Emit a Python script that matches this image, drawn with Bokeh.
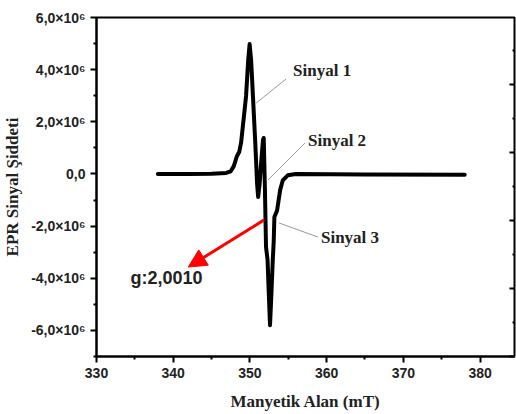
from bokeh.plotting import figure
from bokeh.models import (Range1d, LinearAxis, FixedTicker, Label, Arrow,
                          NormalHead, ColumnDataSource, CustomLabelingPolicy)
from bokeh.embed import file_html
from bokeh.resources import INLINE

# ---- data ----
field_mT = [338.0, 342.0, 345.0, 346.9, 347.5, 347.9, 348.3, 348.6, 348.85,
            349.25, 349.5, 349.77, 349.96, 350.16, 350.4, 350.68, 350.94,
            351.07, 351.26, 351.46, 351.7, 351.8, 351.95, 352.1, 352.3,
            352.45, 352.62, 352.8, 352.98, 353.1, 353.19, 353.54, 353.95,
            354.28, 354.93, 356.0, 365.0, 378.0]
signal = [0.0, 0.0, 0.01e6, 0.04e6, 0.1e6, 0.3e6, 0.68e6, 0.84e6, 1.2e6,
          2.3e6, 3.0e6, 4.35e6, 4.98e6, 4.35e6, 2.95e6, 1.3e6, -0.4e6,
          -0.88e6, -0.4e6, 0.42e6, 1.3e6, 1.38e6, -0.5e6, -2.8e6, -3.3e6,
          -4.5e6, -5.8e6, -4.6e6, -3.3e6, -2.6e6, -1.65e6, -1.4e6, -0.6e6,
          -0.25e6, -0.05e6, 0.0, -0.02e6, -0.03e6]

x_ticks = [330, 340, 350, 360, 370, 380]
x_minor = [335, 345, 355, 365, 375]
y_ticks = [-6e6, -4e6, -2e6, 0.0, 2e6, 4e6, 6e6]
y_tick_labels = ["-6,0×10⁶", "-4,0×10⁶", "-2,0×10⁶", "0,0",
                 "2,0×10⁶", "4,0×10⁶", "6,0×10⁶"]
y_minor = [-7e6, -5e6, -3e6, -1e6, 1e6, 3e6, 5e6]

signal_names = ["Sinyal 1", "Sinyal 2", "Sinyal 3"]
g_text = "g:2,0010"

# ---- layout constants ----
XMIN, XMAX = 330, 384.49
YMIN, YMAX = -7e6, 6e6
SERIF = "Liberation Serif"
SANS = "Liberation Sans"
HIDE = "for (const i of indices) indices.unset(i)"
RIGHT_STEP = 2.605e6   # spacing of the (unlabelled) right-edge ticks

p = figure(width=516, height=414, x_range=Range1d(XMIN, XMAX),
           y_range=Range1d(YMIN, YMAX), output_backend="svg",
           toolbar_location=None, min_border_left=95, min_border_top=17,
           min_border_right=2, min_border_bottom=58, title_location=None,
           x_axis_label="Manyetik Alan (mT)", y_axis_label="EPR Sinyal Şiddeti")
p.outline_line_color = "black"
p.outline_line_width = 2
p.xgrid.visible = False
p.ygrid.visible = False
p.background_fill_color = "white"
p.border_fill_color = "white"

src = ColumnDataSource(dict(x=field_mT, y=signal))
p.line("x", "y", source=src, line_color="black", line_width=4,
       line_join="round", line_cap="round")

# bottom axis
xa = p.xaxis[0]
xa.ticker = FixedTicker(ticks=x_ticks, minor_ticks=x_minor)
xa.axis_line_width = 2
xa.major_tick_line_width = 2
xa.minor_tick_line_width = 2
xa.major_tick_in = 0
xa.major_tick_out = 6
xa.minor_tick_in = 0
xa.minor_tick_out = 3
xa.major_label_text_font = SANS
xa.major_label_text_font_style = "bold"
xa.major_label_text_font_size = "14px"
xa.major_label_text_color = "#222222"
xa.major_label_standoff = 5
xa.axis_label_text_font = SERIF
xa.axis_label_text_font_style = "bold"
xa.axis_label_text_font_size = "17px"
xa.axis_label_text_color = "#222222"
xa.axis_label_standoff = 11

# left axis
ya = p.yaxis[0]
ya.ticker = FixedTicker(ticks=y_ticks, minor_ticks=y_minor)
ya.major_label_overrides = {float(v): t for v, t in zip(y_ticks, y_tick_labels)}
ya.axis_line_width = 2
ya.major_tick_line_width = 2
ya.minor_tick_line_width = 2
ya.major_tick_in = 0
ya.major_tick_out = 6
ya.minor_tick_in = 0
ya.minor_tick_out = 3
ya.major_label_text_font = SANS
ya.major_label_text_font_style = "bold"
ya.major_label_text_font_size = "14px"
ya.major_label_text_color = "#222222"
ya.major_label_standoff = 5
ya.axis_label_text_font = SERIF
ya.axis_label_text_font_style = "bold"
ya.axis_label_text_font_size = "17px"
ya.axis_label_text_color = "#222222"
ya.axis_label_standoff = 6

# right axis (inward ticks, no labels)
right_major = [YMIN + RIGHT_STEP * k for k in range(5)]
right_minor = [YMIN + RIGHT_STEP * (k + 0.5) for k in range(5)]
ra = LinearAxis(ticker=FixedTicker(ticks=right_major, minor_ticks=right_minor),
                major_label_policy=CustomLabelingPolicy(code=HIDE))
ra.major_label_overrides = {float(v): "" for v in right_major}
ra.axis_line_color = None
ra.major_tick_line_width = 2
ra.minor_tick_line_width = 2
ra.major_tick_in = 5
ra.major_tick_out = 0
ra.minor_tick_in = 2
ra.minor_tick_out = 0
ra.major_label_text_font_size = "1px"
ra.major_label_standoff = 0
p.add_layout(ra, "right")

# leader lines
lead_x0 = [350.81, 352.37, 353.80]
lead_y0 = [2.72e6, -0.23e6, -1.88e6]
lead_x1 = [354.71, 357.18, 358.87]
lead_y1 = [3.64e6, 1.19e6, -2.42e6]
p.segment(lead_x0, lead_y0, lead_x1, lead_y1, line_color="#9a9a9a", line_width=1)

lab_x = [355.62, 357.57, 359.26]
lab_y = [3.95e6, 1.30e6, -2.42e6]
for name, lx, ly in zip(signal_names, lab_x, lab_y):
    p.add_layout(Label(x=lx, y=ly, text=name, text_font=SERIF,
                       text_font_style="bold", text_font_size="17px",
                       text_baseline="middle", text_align="left",
                       text_color="#222222"))

# red arrow and g value
p.add_layout(Arrow(x_start=351.85, y_start=-1.76e6, x_end=341.96, y_end=-3.57e6,
                   line_color="red", line_width=3,
                   end=NormalHead(size=18, fill_color="red", line_color="red")))
p.add_layout(Label(x=334.42, y=-3.99e6, text=g_text, text_font=SANS,
                   text_font_style="bold", text_font_size="18px",
                   text_baseline="middle", text_align="left",
                   text_color="#222222"))

open("out.html", "w").write(file_html(p, INLINE))
